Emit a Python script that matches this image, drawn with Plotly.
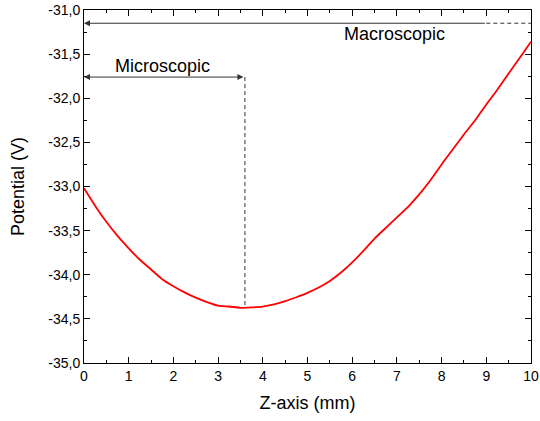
import plotly.graph_objects as go

z_mm = [0, 0.1, 0.25, 0.5, 0.75, 1.0, 1.25, 1.5, 1.75, 2.0, 2.25, 2.5, 2.75, 3.0, 3.25, 3.5,
        3.75, 4.0, 4.25, 4.5, 4.75, 5.0, 5.25, 5.5, 5.75, 6.0, 6.25, 6.5, 6.75, 7.0, 7.25,
        7.5, 7.75, 8.0, 8.25, 8.5, 8.75, 9.0, 9.25, 9.5, 9.75, 10.0]
potential = [-33.02, -33.10, -33.22, -33.40, -33.56, -33.70, -33.83, -33.94, -34.05, -34.13,
             -34.20, -34.26, -34.31, -34.35, -34.36, -34.375, -34.37, -34.36, -34.335, -34.30,
             -34.255, -34.205, -34.145, -34.07, -33.975, -33.86, -33.73, -33.59, -33.47, -33.35,
             -33.23, -33.09, -32.93, -32.75, -32.58, -32.41, -32.25, -32.07, -31.90, -31.72,
             -31.54, -31.36]

x_ticks = [0, 1, 2, 3, 4, 5, 6, 7, 8, 9, 10]
y_ticks = [-35.0, -34.5, -34.0, -33.5, -33.0, -32.5, -32.0, -31.5, -31.0]
y_labels = ["-35,0", "-34,5", "-34,0", "-33,5", "-33,0", "-32,5", "-32,0", "-31,5", "-31,0"]

micro_end = 3.6
micro_y = -31.76
micro_min = -34.37
macro_start = 9.0
macro_y = -31.15

fig = go.Figure()
fig.add_trace(go.Scatter(x=z_mm, y=potential, mode="lines",
                         line=dict(color="#ff0000", width=1.8, shape="spline", smoothing=0.6),
                         showlegend=False))

fam = "Liberation Sans, Arial, sans-serif"
fig.update_layout(
    width=540, height=421,
    margin=dict(l=84, r=9, t=10, b=58),
    paper_bgcolor="white", plot_bgcolor="white",
    font=dict(family=fam, size=14, color="#000"),
    xaxis=dict(range=[0, 10], tickvals=x_ticks, ticktext=[str(v) for v in x_ticks],
               showline=True, linecolor="#000", automargin=False,
               linewidth=1, mirror="ticks", ticks="inside", ticklen=6, tickcolor="#000",
               showgrid=False, zeroline=False, tickfont=dict(size=14),
               minor=dict(ticks="inside", ticklen=3, dtick=0.5, tickcolor="#000"),
               title=dict(text="Z-axis (mm)", font=dict(size=18), standoff=13)),
    yaxis=dict(range=[-35, -31], tickvals=y_ticks, ticktext=y_labels,
               showline=True, linecolor="#000", automargin=False,
               linewidth=1, mirror="ticks", ticks="inside", ticklen=6, tickcolor="#000",
               showgrid=False, zeroline=False, tickfont=dict(size=14),
               minor=dict(ticks="inside", ticklen=3, dtick=0.25, tickcolor="#000"),
               title=dict(text="Potential (V)", font=dict(size=18), standoff=18)),
)

arrow_color = "#333333"
dash_style = "4px,3px"
# Macroscopic arrow
fig.add_annotation(x=0, y=macro_y, ax=macro_start, ay=macro_y, xref="x", yref="y",
                   axref="x", ayref="y", text="", showarrow=True, arrowhead=2,
                   arrowsize=1.2, arrowwidth=1, arrowcolor=arrow_color)
fig.add_shape(type="line", x0=macro_start, x1=10, y0=macro_y, y1=macro_y,
              line=dict(color=arrow_color, width=1, dash=dash_style))
fig.add_annotation(x=6.95, y=-31.27, text="Macroscopic", showarrow=False,
                   font=dict(size=18, color="#000"))

# Microscopic arrow
fig.add_annotation(x=0, y=micro_y, ax=micro_end, ay=micro_y, xref="x", yref="y",
                   axref="x", ayref="y", text="", showarrow=True, arrowhead=2,
                   startarrowhead=2, arrowside="end+start", arrowsize=1.2,
                   startarrowsize=1.2, arrowwidth=1, arrowcolor=arrow_color)
fig.add_shape(type="line", x0=micro_end, x1=micro_end, y0=micro_y, y1=micro_min,
              line=dict(color=arrow_color, width=1, dash=dash_style))
fig.add_annotation(x=1.75, y=-31.63, text="Microscopic", showarrow=False,
                   font=dict(size=18, color="#000"))

fig.write_html("out.html", config={"displayModeBar": False},
               post_script="document.body.style.margin='0';")
